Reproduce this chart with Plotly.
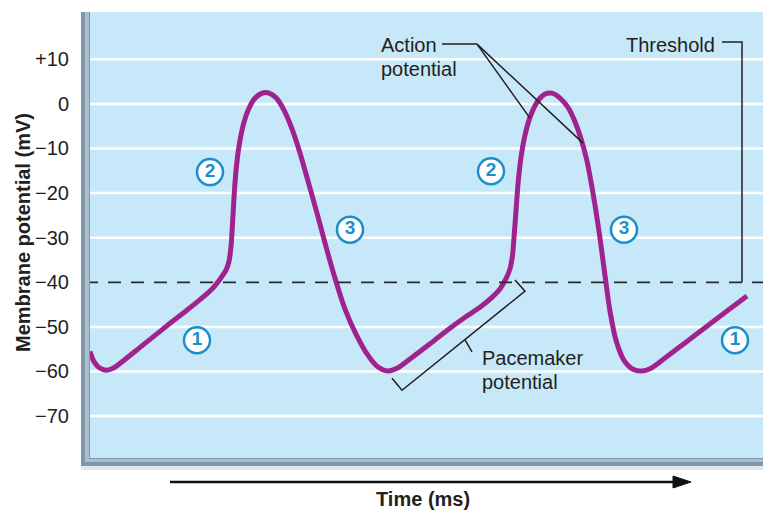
import plotly.graph_objects as go

# ---------------- data ----------------
time_ms = [0, 4, 9, 16, 23, 35, 50, 65, 80, 95, 110, 122, 130, 136, 139, 141, 142.5, 144, 146, 149,
           153, 158, 164, 171, 178, 186, 194, 202, 210, 218, 227, 236, 245, 255, 266, 278, 288, 298,
           307, 320, 340, 357, 374, 390, 402, 410, 416, 420, 422.5, 424, 426, 428, 431, 435, 440,
           448, 455, 462, 470, 478, 485, 491, 497, 503, 509, 515, 520, 526, 534, 543, 552, 560, 575,
           595, 615, 635, 657]
membrane_mv = [-55.5, -57.8, -59.1, -59.7, -59.3, -57.3, -54.6, -51.9, -49.2, -46.6, -43.9, -41.5,
               -39.3, -37.3, -35.3, -32, -27, -21, -15, -9.5, -5, -1.5, 1, 2.3, 2.5, 1.4, -1.4, -5.6,
               -11, -17.3, -24.5, -32, -39.1, -46, -51.6, -56.4, -59, -59.9, -59.3, -57.2,
               -53.8, -50.8, -48, -45.6, -43.4, -41.5, -39.2, -37, -34, -30, -24, -18, -12, -7, -3,
               0.7, 2.2, 2.4, 1.3, -0.8, -4, -7.8, -12.8, -20, -28.5, -38.5, -46.5, -53, -57.5, -59.5,
               -59.9, -59.4, -57, -53.6, -50.2, -46.8, -43.1]

phase_labels = ["1", "2", "3", "2", "3", "1"]
phase_time = [107, 120, 260, 401, 534, 645]
phase_mv = [-53, -15.3, -28.2, -15.1, -28.2, -53]

tick_vals = [10, 0, -10, -20, -30, -40, -50, -60, -70]
tick_text = ["+10", "0", "\u221210", "\u221220", "\u221230", "\u221240", "\u221250", "\u221260", "\u221270"]
threshold_mv = -40
grid_levels = [v for v in tick_vals if v != threshold_mv]

# ---------------- layout helpers ----------------
W, H = 763, 512
L, T, B = 90, 12, 54
PW, PH = W - L, H - T - B
X_RANGE = [0, PW]
Y_RANGE = [-79.4, 20.6]


def px(x):
    return (x - L) / PW


def py(y):
    return (H - B - y) / PH


FONT = "Liberation Sans, Arial, Helvetica, sans-serif"
INK = "#231F20"
PURPLE = "#A0228E"
BLUE = "#1A8FCB"

fig = go.Figure()

# action potential trace
fig.add_trace(go.Scatter(
    x=time_ms, y=membrane_mv, mode="lines",
    line=dict(color=PURPLE, width=5, shape="spline", smoothing=0.8),
    hoverinfo="skip", showlegend=False, cliponaxis=False))

# numbered phase markers
fig.add_trace(go.Scatter(
    x=phase_time, y=phase_mv, mode="markers+text", text=phase_labels,
    textposition="middle center",
    textfont=dict(family=FONT, size=19, color=BLUE, weight="bold"),
    marker=dict(size=26, color="white", line=dict(color=BLUE, width=2.5)),
    hoverinfo="skip", showlegend=False))

shapes = []
# white grid lines
for g in grid_levels:
    shapes.append(dict(type="line", xref="paper", yref="y", x0=0, x1=1, y0=g, y1=g,
                       line=dict(color="white", width=2.5), layer="below"))
# threshold dashed line
shapes.append(dict(type="line", xref="paper", yref="y", x0=px(85), x1=1, y0=threshold_mv, y1=threshold_mv,
                   line=dict(color="#2A2A2A", width=1.8, dash="13px,10px"), layer="above"))

# frame (left + bottom borders with shading)
shapes += [
    dict(type="rect", xref="paper", yref="paper", x0=px(81), x1=px(90), y0=py(470), y1=py(12),
         fillcolor="#D9E0E5", line_width=0, layer="below"),
    dict(type="rect", xref="paper", yref="paper", x0=px(81), x1=1, y0=py(470), y1=py(466),
         fillcolor="#E2E7EB", line_width=0, layer="below"),
    dict(type="rect", xref="paper", yref="paper", x0=px(81), x1=px(90), y0=py(466), y1=py(12),
         fillcolor="#7F97AA", line_width=0),
    dict(type="rect", xref="paper", yref="paper", x0=px(81), x1=1, y0=py(466), y1=py(458),
         fillcolor="#7F97AA", line_width=0),
    dict(type="rect", xref="paper", yref="paper", x0=px(85), x1=px(89), y0=py(462), y1=py(12),
         fillcolor="#A9BFCE", line_width=0),
    dict(type="rect", xref="paper", yref="paper", x0=px(85), x1=1, y0=py(462), y1=py(459),
         fillcolor="#A9BFCE", line_width=0),
]

# "Action potential" pointer lines
lk = dict(color=INK, width=1.5)
shapes += [
    dict(type="line", xref="x", yref="y", x0=352, y0=13.4, x1=387, y1=13.4, line=lk),
    dict(type="line", xref="x", yref="y", x0=387, y0=13.4, x1=440, y1=-3.2, line=lk),
    dict(type="line", xref="x", yref="y", x0=387, y0=13.4, x1=493, y1=-8.8, line=lk),
    # Threshold pointer
    dict(type="path", xref="x", yref="y", path="M 632,13.9 L 652,13.9 L 652,-40", line=lk),
    # Pacemaker bracket
    dict(type="path", xref="x", yref="y",
         path="M 302,-61.5 L 312,-64.2 L 435,-42.0 L 425,-39.5", line=lk),
    dict(type="line", xref="x", yref="y", x0=375, y0=-52.9, x1=382, y1=-55.6, line=lk),
]

# time arrow
shapes += [
    dict(type="line", xref="paper", yref="paper", x0=px(170), x1=px(676), y0=py(482), y1=py(482),
         line=dict(color="#111111", width=2.5)),
    dict(type="path", xref="paper", yref="paper",
         path=f"M {px(691)},{py(482)} L {px(673)},{py(476)} L {px(673)},{py(488)} Z",
         fillcolor="#111111", line=dict(color="#111111", width=1)),
]

ann_font = dict(family=FONT, size=20, color=INK)
annotations = [
    dict(x=289, y=13.2, xref="x", yref="y", text="Action", showarrow=False, xanchor="left",
         yanchor="middle", font=ann_font),
    dict(x=289, y=7.8, xref="x", yref="y", text="potential", showarrow=False, xanchor="left",
         yanchor="middle", font=ann_font),
    dict(x=627, y=13.2, xref="x", yref="y", text="Threshold", showarrow=False, xanchor="right",
         yanchor="middle", font=ann_font),
    dict(x=390, y=-57.0, xref="x", yref="y", text="Pacemaker", showarrow=False, xanchor="left",
         yanchor="middle", font=ann_font),
    dict(x=390, y=-62.3, xref="x", yref="y", text="potential", showarrow=False, xanchor="left",
         yanchor="middle", font=ann_font),
    dict(x=px(423), y=py(499), xref="paper", yref="paper", text="<b>Time (ms)</b>", showarrow=False,
         xanchor="center", yanchor="middle", font=dict(family=FONT, size=20, color=INK)),
    dict(x=px(23), y=py(233), xref="paper", yref="paper", text="<b>Membrane potential (mV)</b>",
         showarrow=False, textangle=-90, xanchor="center", yanchor="middle",
         font=dict(family=FONT, size=20, color=INK)),
]

fig.update_layout(
    width=W, height=H,
    margin=dict(l=L, r=0, t=T, b=B, pad=0),
    paper_bgcolor="white", plot_bgcolor="#C7E8F8",
    xaxis=dict(range=X_RANGE, showgrid=False, zeroline=False, showticklabels=False, ticks="",
               showline=False, fixedrange=True),
    yaxis=dict(range=Y_RANGE, tickvals=tick_vals, ticktext=tick_text, showgrid=False, zeroline=False,
               ticks="outside", ticklen=16, tickcolor="rgba(0,0,0,0)", showline=False,
               tickfont=dict(family=FONT, size=20, color=INK), fixedrange=True),
    shapes=shapes, annotations=annotations, showlegend=False,
)

fig.write_html("out.html", config={"displayModeBar": False},
               post_script="document.body.style.margin='0';document.body.style.overflow='hidden';")
